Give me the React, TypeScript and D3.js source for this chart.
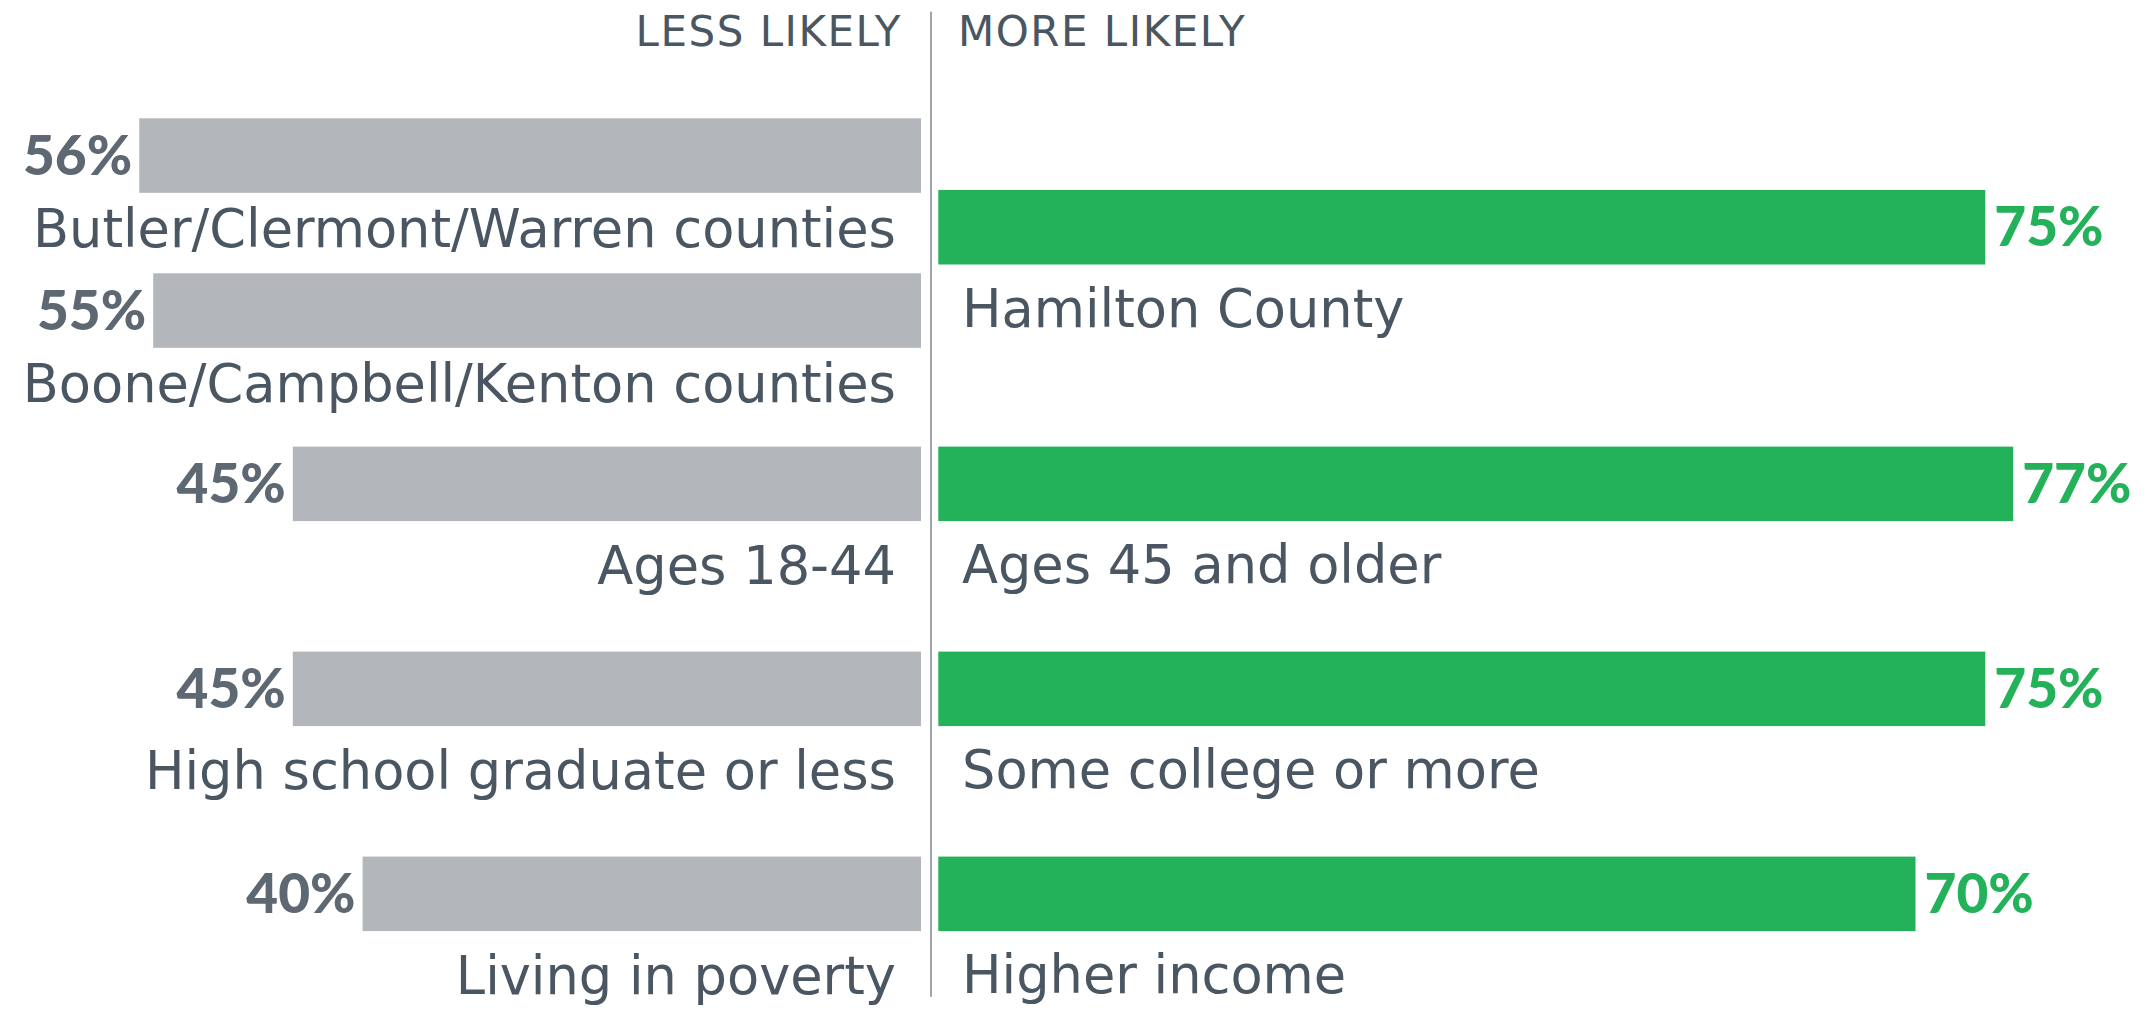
import React from "react";
import * as d3 from "d3";

// ---- Data ----
const leftCategories = [
  "Butler/Clermont/Warren counties",
  "Boone/Campbell/Kenton counties",
  "Ages 18-44",
  "High school graduate or less",
  "Living in poverty",
];
const leftValues = [56, 55, 45, 45, 40];
const leftGroups = [0, 0, 1, 2, 3];

const rightCategories = [
  "Hamilton County",
  "Ages 45 and older",
  "Some college or more",
  "Higher income",
];
const rightValues = [75, 77, 75, 70];
const rightGroups = [0, 1, 2, 3];

const headerLeft = "LESS LIKELY";
const headerRight = "MORE LIKELY";

// ---- Styles ----
const W = 2151;
const H = 1010;
const GRAY_BAR = "#b3b7bb";
const GREEN = "#23b25a";
const TEXT = "#4a5661";
const PCT_GRAY = "#5e6872";
const LINE = "#9ea4aa";
const LABEL_FONT = "'DejaVu Sans', sans-serif";
const PCT_FONT = "Lato, 'DejaVu Sans', sans-serif";

const BAR_H = 74.5;
const CENTER = 931;
const LEFT_EDGE = 921;
const RIGHT_EDGE = 938.3;
const PX_PER_PCT = 13.96;

export default function App() {
  const xLeft = d3.scaleLinear().domain([0, 100]).range([LEFT_EDGE, LEFT_EDGE - 100 * PX_PER_PCT]);
  const xRight = d3.scaleLinear().domain([0, 100]).range([RIGHT_EDGE, RIGHT_EDGE + 100 * PX_PER_PCT]);
  const groupY = d3.scaleLinear().domain([1, 3]).range([446.6, 856.6]);

  // staggered geography group
  const geoLeftTops = [118.3, 273.3];
  const geoRightTop = 190;

  const leftTop = (i: number) => {
    const g = leftGroups[i];
    if (g === 0) return geoLeftTops[i];
    return groupY(g);
  };
  const rightTop = (i: number) => {
    const g = rightGroups[i];
    if (g === 0) return geoRightTop;
    return groupY(g);
  };

  return (
    <svg
      width={W}
      height={H}
      style={{ position: "absolute", left: 0, top: 0, background: "#fff" }}
    >
      {/* Headers */}
      <text
        x={902}
        y={45.7}
        textAnchor="end"
        fontFamily={LABEL_FONT}
        fontSize={42}
        fill={TEXT}
        style={{ letterSpacing: "1.5px" }}
      >
        {headerLeft}
      </text>
      <text
        x={958}
        y={45.7}
        textAnchor="start"
        fontFamily={LABEL_FONT}
        fontSize={42}
        fill={TEXT}
        style={{ letterSpacing: "1.5px" }}
      >
        {headerRight}
      </text>

      {/* Center line */}
      <line x1={CENTER} x2={CENTER} y1={11.7} y2={996.7} stroke={LINE} strokeWidth={2} />

      {/* Left bars */}
      {leftValues.map((v, i) => {
        const top = leftTop(i);
        const g = leftGroups[i];
        const labelOffset = g === 0 ? 54 : 63;
        return (
          <g key={"l" + i}>
            <rect
              x={xLeft(v)}
              y={top}
              width={LEFT_EDGE - xLeft(v)}
              height={BAR_H}
              fill={GRAY_BAR}
            />
            <text
              x={xLeft(v) - 7}
              y={top + BAR_H / 2 + 19}
              textAnchor="end"
              fontFamily={PCT_FONT}
              fontWeight={900}
              fontSize={55}
              fill={PCT_GRAY}
            >
              {v}%
            </text>
            <text
              x={896}
              y={top + BAR_H + labelOffset}
              textAnchor="end"
              fontFamily={LABEL_FONT}
              fontSize={52.6}
              fill={TEXT}
            >
              {leftCategories[i]}
            </text>
          </g>
        );
      })}

      {/* Right bars */}
      {rightValues.map((v, i) => {
        const top = rightTop(i);
        return (
          <g key={"r" + i}>
            <rect
              x={RIGHT_EDGE}
              y={top}
              width={xRight(v) - RIGHT_EDGE}
              height={BAR_H}
              fill={GREEN}
            />
            <text
              x={xRight(v) + 9}
              y={top + BAR_H / 2 + 19}
              textAnchor="start"
              fontFamily={PCT_FONT}
              fontWeight={900}
              fontSize={55}
              fill={GREEN}
            >
              {v}%
            </text>
            <text
              x={962}
              y={top + BAR_H + 62}
              textAnchor="start"
              fontFamily={LABEL_FONT}
              fontSize={52.6}
              fill={TEXT}
            >
              {rightCategories[i]}
            </text>
          </g>
        );
      })}
    </svg>
  );
}
